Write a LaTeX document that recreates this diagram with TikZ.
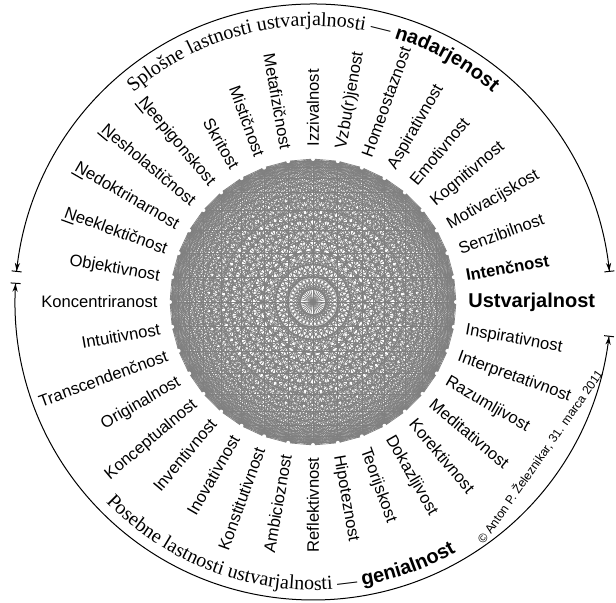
\documentclass[tikz,border=0pt]{standalone}
\usepackage{fontspec}
\setmainfont{Liberation Sans}
\newfontfamily\serifarc{Liberation Serif}
\usetikzlibrary{arrows.meta,decorations.text}
\newcommand\NeU{\rlap{\kern-0.08em\rule[-1.7pt]{0.78em}{0.6pt}}N}
\begin{document}
\begin{tikzpicture}[x=0.5pt,y=0.5pt,
  lab/.style={inner sep=0pt, font=\fontsize{8.3}{10}\selectfont, text height=6pt, text depth=0pt},
  dotn/.style={circle, fill=white, inner sep=0pt, minimum size=2pt},
  chord/.style={draw=gray, line width=0.35pt},
  ring/.style={line width=0.5pt},
  tipboth/.style={{Bar[width=5pt]Stealth[length=4pt,width=2.6pt]}-{Stealth[length=4pt,width=2.6pt]Bar[width=5pt]}}
]
\useasboundingbox (-313,-301) rectangle (303,302);
% complete graph
\foreach \i in {0,...,35} \coordinate (p\i) at (\i*10:143);
\foreach \i in {0,...,34}{
  \pgfmathtruncatemacro\s{\i+1}
  \foreach \j in {\s,...,35} \draw[chord] (p\i) -- (p\j);
}
\foreach \i in {0,...,35} \node[dotn] (d\i) at (p\i) {};
% labels
\foreach \t [count=\i from 0] in {
 {\bfseries\fontsize{10}{12}\selectfont Ustvarjalnost},{\bfseries Intenčnost},Senzibilnost,Motivacijskost,Kognitivnost,Emotivnost,Aspirativnost,Homeostaznost,Vzbu(r)jenost,Izzivalnost,
 Metafizičnost,Mističnost,Skritost,{\NeU eepigonskost},{\NeU esholastičnost},{\NeU edoktrinarnost},{\NeU eeklektičnost},Objektivnost,Koncentriranost,Intuitivnost,
 Transcendenčnost,Originalnost,Konceptualnost,Inventivnost,Inovativnost,Konstitutivnost,Ambicioznost,Reflektivnost,Hipoteznost,Teorijskost,
 Dokazljivost,Korektivnost,Meditativnost,Razumljivost,Interpretativnost,Inspirativnost}{
  \pgfmathtruncatemacro\a{10*\i}
  \ifnum\i>9 \ifnum\i<28
     \node[lab, anchor=east, rotate=\a-180] (l\i) at (\a:155) {\t};
  \else
     \node[lab, anchor=west, rotate=\a] (l\i) at (\a:155) {\t};
  \fi\else
     \node[lab, anchor=west, rotate=\a] (l\i) at (\a:155) {\t};
  \fi
}
% outer arcs
\draw[ring,tipboth] (5.8:298) arc[start angle=5.8,end angle=174.2,radius=298];
\draw[ring,tipboth] (176.3:298) arc[start angle=176.3,end angle=353.5,radius=298];
% arc texts
\path[decorate, decoration={text along path, text align=center,
  text={|\serifarc\fontsize{10}{12}\selectfont|Splošne lastnosti ustvarjalnosti — |\normalfont\bfseries|nadarjenost}}]
  (170:276) arc[start angle=170,end angle=10,radius=276];
\path[decorate, decoration={text along path, text align=center,
  text={|\serifarc\fontsize{10}{12}\selectfont|Posebne lastnosti ustvarjalnosti — |\normalfont\bfseries|genialnost}}]
  (181.5:288) arc[start angle=181.5,end angle=342.3,radius=288];
% copyright
\node[font=\fontsize{6.1}{7.5}\selectfont, rotate=55, inner sep=0pt] (copy) at (227,-155) {© Anton P. Železnikar, 31. marca 2011};
\end{tikzpicture}
\end{document}
